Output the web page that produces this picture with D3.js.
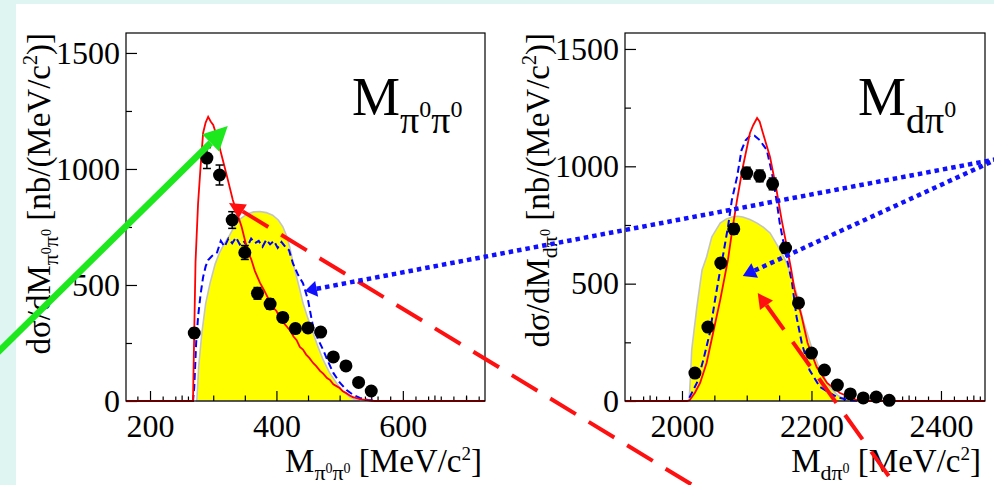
<!DOCTYPE html>
<html>
<head>
<meta charset="utf-8">
<script src="https://cdn.jsdelivr.net/npm/d3@7"></script>
<style>
  body { margin: 0; background: #def5f1; }
  svg { display: block; }
  text { font-family: "Liberation Serif", "Times New Roman", serif; fill: #000; }
</style>
</head>
<body>
<svg width="994" height="485" font-family="Liberation Serif, serif"></svg>
<script>
// ---- M(pi0 pi0) panel ----
const ppDataX = [270, 290, 310, 330, 350, 370, 390, 410, 430, 450, 470, 490, 510, 530, 550];
const ppDataY = [293, 1047, 974, 780, 640, 464, 418, 360, 312, 315, 297, 190, 151, 80, 43];
const ppDataErr = [20, 45, 43, 36, 30, 25, 22, 20, 18, 18, 17, 14, 12, 10, 8];

const ppRedX = [162, 268, 270, 272, 276, 280, 284, 288, 292, 296, 300, 306, 311, 316, 322, 331, 345, 355, 360, 366, 374, 380, 386, 394, 400, 405, 411, 417, 422, 427, 432, 437, 442, 447, 452, 458, 463, 469, 474, 480, 485, 490, 495, 500, 505, 510, 516, 521, 532, 543, 555, 730];
const ppRedY = [0, 0, 300, 600, 850, 1010, 1155, 1200, 1225, 1205, 1190, 1139, 1083, 1030, 966, 866, 750, 640, 612, 560, 509, 480, 448, 405, 388, 360, 338, 319, 302, 278, 262, 233, 222, 200, 186, 164, 150, 130, 118, 99, 90, 72, 64, 56, 42, 35, 24, 17, 8, 4, 0, 0];

const ppBlueX = [162, 268, 270, 273, 276, 280, 284, 288, 292, 298, 306, 312, 318, 324, 330, 336, 342, 348, 354, 360, 366, 372, 378, 384, 390, 396, 402, 408, 414, 420, 426, 434, 442, 450, 458, 466, 474, 482, 490, 500, 511, 521, 532, 545, 560, 730];
const ppBlueY = [0, 0, 60, 250, 362, 460, 534, 580, 607, 625, 640, 690, 665, 700, 680, 705, 675, 690, 665, 700, 680, 690, 665, 695, 675, 690, 660, 685, 665, 650, 594, 545, 508, 435, 319, 265, 220, 168, 121, 80, 47, 27, 13, 4, 0, 0];

const ppYellowX = [274, 277, 282, 288, 295, 303, 310, 318, 326, 333, 343, 353, 364, 374, 384, 394, 403, 410, 416, 421, 426, 432, 437, 442, 450, 458, 466, 474, 484, 495, 505, 516, 524, 532];
const ppYellowY = [0, 150, 293, 420, 508, 590, 640, 680, 715, 750, 785, 805, 815, 817, 812, 801, 780, 752, 712, 664, 600, 534, 480, 422, 355, 293, 232, 177, 122, 78, 42, 17, 6, 0];

// ---- M(d pi0) panel ----
const dpDataX = [2020, 2040, 2060, 2080, 2100, 2120, 2140, 2160, 2180, 2200, 2220, 2240, 2260, 2280, 2300, 2320];
const dpDataY = [119, 315, 588, 733, 971, 959, 925, 652, 418, 204, 132, 68, 30, 13, 17, 3];
const dpDataErr = [10, 15, 20, 22, 25, 25, 25, 22, 18, 12, 10, 8, 6, 5, 5, 4];

const dpRedX = [1912, 2008, 2012, 2020, 2028, 2038, 2048, 2059, 2071, 2077, 2085, 2094, 2105, 2110, 2116, 2120, 2125, 2136, 2146, 2154, 2162, 2168, 2174, 2185, 2194, 2208, 2224, 2244, 2270, 2290, 2468];
const dpRedY = [0, 0, 4, 35, 77, 162, 290, 430, 601, 716, 856, 997, 1142, 1175, 1206, 1190, 1142, 1040, 899, 771, 656, 570, 473, 358, 247, 145, 77, 34, 4, 0, 0];

const dpBlueX = [1912, 2008, 2012, 2023, 2033, 2043, 2051, 2059, 2063, 2071, 2077, 2085, 2092, 2098, 2105, 2112, 2120, 2131, 2139, 2146, 2151, 2159, 2165, 2170, 2177, 2185, 2197, 2213, 2239, 2260, 2280, 2468];
const dpBlueY = [0, 0, 17, 77, 175, 290, 430, 558, 614, 741, 856, 954, 1069, 1110, 1130, 1130, 1112, 1069, 971, 856, 758, 643, 570, 503, 358, 247, 132, 60, 17, 2, 0, 0];

const dpYellowX = [2011, 2013, 2015, 2019, 2023, 2027, 2031, 2038, 2046, 2059, 2068, 2077, 2086, 2094, 2105, 2116, 2126, 2136, 2148, 2156, 2163, 2170, 2177, 2187, 2200, 2213, 2228, 2240, 2248, 2256];
const dpYellowY = [0, 100, 217, 310, 400, 480, 558, 614, 699, 758, 775, 784, 787, 784, 773, 758, 740, 716, 660, 620, 580, 520, 460, 345, 230, 132, 60, 25, 13, 0];

// ---- ticks and labels ----
const yMajorTicks = [0, 500, 1000, 1500];
const yMinorTicks = [250, 750, 1250];
const ppXMajor = [200, 400, 600];
const dpXMajor = [2000, 2200, 2400];

// text pieces: [text, font size, baseline offset]
const ppTitle = [["M", 54, 0], ["π", 38, 18], ["0", 24, 2], ["π", 38, 18], ["0", 24, 2]];
const dpTitle = [["M", 54, 0], ["d", 38, 18], ["π", 38, 18], ["0", 24, 2]];
const ppXTitle = [["M", 33, 0], ["π", 22, 8], ["0", 14, 1], ["π", 22, 8], ["0", 14, 1], [" [MeV/c", 33, 0], ["2", 19, -12], ["]", 33, 0]];
const dpXTitle = [["M", 33, 0], ["d", 22, 8], ["π", 22, 8], ["0", 14, 1], [" [MeV/c", 33, 0], ["2", 19, -12], ["]", 33, 0]];
const ppYTitle = [["dσ/dM", 33, 0], ["π", 22, 8], ["0", 14, 1], ["π", 22, 8], ["0", 14, 1], [" [nb/(MeV/c", 33, 0], ["2", 20, -13], [")]", 33, 0]];
const dpYTitle = [["dσ/dM", 33, 0], ["d", 22, 8], ["π", 22, 8], ["0", 14, 1], [" [nb/(MeV/c", 33, 0], ["2", 20, -13], [")]", 33, 0]];

// annotation arrows, ends given in panel data coordinates
const arrows = [
    { from: ["L", -69, 134], to: ["L", 323, 1185], color: "#1de81d", width: 6.5, dash: null, head: [24, 12] },
    { from: ["L", 1075, -390], to: ["L", 325, 853], color: "#ff1010", width: 4, dash: "30,15", head: [16, 8] },
    { from: ["R", 2487, 1031], to: ["L", 445, 474], color: "#1010ff", width: 4.5, dash: "4.5,4", head: [12, 8] },
    { from: ["R", 2487, 1031], to: ["R", 2094, 533], color: "#1010ff", width: 4.5, dash: "4.5,4", head: [13, 8] },
    { from: ["R", 2348, -430], to: ["R", 2117, 460], color: "#ff1010", width: 4, dash: "30,15", head: [15, 8] }
];

const svg = d3.select("svg");

svg.append("rect")
    .attr("x", 16).attr("y", 4)
    .attr("width", 978).attr("height", 481)
    .attr("fill", "#fff");

const panels = {
    L: {
        x: d3.scaleLinear().domain([162, 730]).range([126, 485]),
        y: d3.scaleLinear().domain([0, 1586]).range([401, 33]),
        xMajor: ppXMajor, yTitle: ppYTitle, xTitle: ppXTitle, title: ppTitle,
        yTitleX: 50, xTitleEnd: 482, titleX: 352,
        data: [ppDataX, ppDataY, ppDataErr],
        red: [ppRedX, ppRedY], blue: [ppBlueX, ppBlueY], yellow: [ppYellowX, ppYellowY]
    },
    R: {
        x: d3.scaleLinear().domain([1912, 2468]).range([625, 985]),
        y: d3.scaleLinear().domain([0, 1568]).range([401, 33]),
        xMajor: dpXMajor, yTitle: dpYTitle, xTitle: dpXTitle, title: dpTitle,
        yTitleX: 549, xTitleEnd: 981, titleX: 858,
        data: [dpDataX, dpDataY, dpDataErr],
        red: [dpRedX, dpRedY], blue: [dpBlueX, dpBlueY], yellow: [dpYellowX, dpYellowY]
    }
};

function rich(sel, parts) {
    let prev = 0;
    parts.forEach(([t, s, b]) => {
        sel.append("tspan").attr("font-size", s).attr("dy", b - prev).text(t);
        prev = b;
    });
}

function cleanAxis(a) {
    a.select(".domain").remove();
    a.attr("font-family", "Liberation Serif, serif").attr("font-size", 32);
    a.selectAll("line").attr("stroke", "#000").attr("stroke-width", 1.2);
}

function drawPanel(p) {
    const g = svg.append("g");
    const [xa, xb] = p.x.range();
    const [yb, ya] = p.y.range();
    const d0 = p.x.domain();

    // fine ticks every 20 (covered by the filled histogram)
    const fine = d3.range(Math.ceil(d0[0] / 20) * 20, d0[1], 20).filter(v => p.xMajor.indexOf(v) < 0);
    g.append("g").attr("transform", `translate(0,${yb})`)
        .call(d3.axisBottom(p.x).tickValues(fine).tickSize(-4.5).tickFormat(""))
        .call(cleanAxis);

    // yellow filled distribution
    const yel = p.yellow[0].map((v, i) => [v, p.yellow[1][i]]);
    g.append("path")
        .attr("d", d3.area().x(d => p.x(d[0])).y0(p.y(0)).y1(d => p.y(d[1]))(yel))
        .attr("fill", "#ffff00")
        .attr("stroke", "#c4c4c4")
        .attr("stroke-width", 1.6);

    // ticks every 50 drawn over the fill
    const mid = d3.range(Math.ceil(d0[0] / 50) * 50, d0[1], 50).filter(v => p.xMajor.indexOf(v) < 0);
    g.append("g").attr("transform", `translate(0,${yb})`)
        .call(d3.axisBottom(p.x).tickValues(mid).tickSize(-5.5).tickFormat(""))
        .call(cleanAxis);

    // major x ticks + labels
    g.append("g").attr("transform", `translate(0,${yb})`)
        .call(d3.axisBottom(p.x).tickValues(p.xMajor).tickSize(-10).tickPadding(13).tickFormat(d3.format("d")))
        .call(cleanAxis);

    // y ticks
    g.append("g").attr("transform", `translate(${xa},0)`)
        .call(d3.axisLeft(p.y).tickValues(yMinorTicks).tickSize(-6).tickFormat(""))
        .call(cleanAxis);
    g.append("g").attr("transform", `translate(${xa},0)`)
        .call(d3.axisLeft(p.y).tickValues(yMajorTicks).tickSize(-11).tickPadding(6).tickFormat(d3.format("d")))
        .call(cleanAxis);

    const line = d3.line().x(d => p.x(d[0])).y(d => p.y(d[1]));
    const blue = p.blue[0].map((v, i) => [v, p.blue[1][i]]);
    const red = p.red[0].map((v, i) => [v, p.red[1][i]]);

    g.append("path").attr("d", line(blue))
        .attr("fill", "none").attr("stroke", "#0000ff")
        .attr("stroke-width", 2).attr("stroke-dasharray", "7,4");
    g.append("path").attr("d", line(red))
        .attr("fill", "none").attr("stroke", "#ff0000")
        .attr("stroke-width", 1.8);

    // data points with error bars
    const pts = p.data[0].map((v, i) => ({ x: v, y: p.data[1][i], e: p.data[2][i] }));
    const pg = g.selectAll(".pt").data(pts).enter().append("g").attr("class", "pt");
    pg.append("line")
        .attr("x1", d => p.x(d.x)).attr("x2", d => p.x(d.x))
        .attr("y1", d => p.y(d.y - d.e)).attr("y2", d => p.y(d.y + d.e))
        .attr("stroke", "#000").attr("stroke-width", 1.5);
    pg.selectAll(".cap").data(d => [[d.x, d.y - d.e], [d.x, d.y + d.e]]).enter()
        .append("line")
        .attr("x1", d => p.x(d[0]) - 4).attr("x2", d => p.x(d[0]) + 4)
        .attr("y1", d => p.y(d[1])).attr("y2", d => p.y(d[1]))
        .attr("stroke", "#000").attr("stroke-width", 1.5);
    pg.append("circle")
        .attr("cx", d => p.x(d.x)).attr("cy", d => p.y(d.y))
        .attr("r", 6.5).attr("fill", "#000");

    // frame
    g.append("rect")
        .attr("x", xa).attr("y", ya)
        .attr("width", xb - xa).attr("height", yb - ya)
        .attr("fill", "none").attr("stroke", "#000").attr("stroke-width", 1.2);

    // axis titles
    rich(g.append("text").attr("text-anchor", "end")
        .attr("transform", `translate(${p.yTitleX},${ya}) rotate(-90)`), p.yTitle);
    rich(g.append("text").attr("text-anchor", "end")
        .attr("x", p.xTitleEnd).attr("y", 472), p.xTitle);
    rich(g.append("text").attr("x", p.titleX).attr("y", 115), p.title);
}

drawPanel(panels.L);
drawPanel(panels.R);

// overlay arrows
function toPx(pt) {
    const p = panels[pt[0]];
    return [p.x(pt[1]), p.y(pt[2])];
}

const ag = svg.append("g");
arrows.forEach(a => {
    const [fx, fy] = toPx(a.from);
    const [tx, ty] = toPx(a.to);
    const len = Math.hypot(tx - fx, ty - fy);
    const ux = (tx - fx) / len, uy = (ty - fy) / len;
    const [hl, hw] = a.head;
    const bx = tx - ux * hl, by = ty - uy * hl;
    ag.append("line")
        .attr("x1", bx).attr("y1", by).attr("x2", fx).attr("y2", fy)
        .attr("stroke", a.color).attr("stroke-width", a.width)
        .attr("stroke-dasharray", a.dash);
    ag.append("path")
        .attr("d", d3.line()([[tx, ty], [bx - uy * hw, by + ux * hw], [bx + uy * hw, by - ux * hw]]) + "Z")
        .attr("fill", a.color);
});
</script>
</body>
</html>
